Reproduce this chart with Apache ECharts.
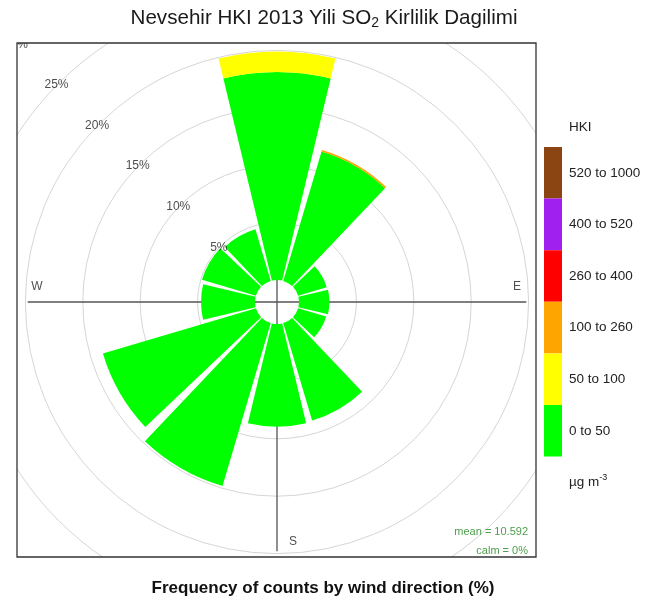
<!DOCTYPE html>
<html><head><meta charset="utf-8">
<script src="https://cdn.jsdelivr.net/npm/echarts@6/dist/echarts.min.js"></script>
<style>html,body{margin:0;padding:0;background:#fff}#c{width:651px;height:601px}</style>
</head><body><div id="c"></div>
<script>
// ---- data ----
const directions = [0, 30, 60, 90, 120, 150, 180, 210, 240, 270, 300, 330];
const binNames = ['0 to 50', '50 to 100', '100 to 260', '260 to 400', '400 to 520', '520 to 1000'];
const binColors = ['#00ff00', '#ffff00', '#ffa500', '#ff0000', '#a020f0', '#8b4513'];
const bin0to50    = [18.1, 11.75, 2.6, 2.65, 2.55, 8.85, 8.95, 14.8, 13.9, 4.7, 4.9, 4.7];
const bin50to100  = [1.8, 0, 0, 0, 0, 0, 0, 0, 0, 0, 0, 0];
const bin100to260 = [0, 0.15, 0, 0, 0, 0, 0, 0, 0, 0, 0, 0];
const bin260to400 = [0, 0, 0, 0, 0, 0, 0, 0, 0, 0, 0, 0];
const bin400to520 = [0, 0, 0, 0, 0, 0, 0, 0, 0, 0, 0, 0];
const bin520to1000 = [0, 0, 0, 0, 0, 0, 0, 0, 0, 0, 0, 0];
const binData = [bin0to50, bin50to100, bin100to260, bin260to400, bin400to520, bin520to1000];
const ringTicks = [5, 10, 15, 20, 25, 30];
const ringLabelAngle = 315;
const compassLabels = ['W', 'E', 'S'];
const compassAngles = [270, 90, 180];
const compassRadius = 19;
const titleText = 'Nevsehir HKI 2013 Yili SO{s|2} Kirlilik Dagilimi';
const captionText = 'Frequency of counts by wind direction (%)';
const legendTitle = 'HKI';
const unitText = 'µg m{p|-3}';
const meanText = 'mean = 10.592';
const calmText = 'calm = 0%';

// ---- layout ----
const CX = 277, CY = 302, INNER = 22, PXPCT = 11.48;
const BOX = {x: 17, y: 43, w: 519, h: 514};
const FONT = 'Liberation Sans, Arial, sans-serif';

const chart = echarts.init(document.getElementById('c'), null, {renderer: 'canvas'});

const hidden = {axisLine: {show: false}, axisTick: {show: false}, axisLabel: {show: false}};

// empty bins are passed as '-' so no zero-height sectors are drawn
const barSeries = binNames.map((n, i) => ({
  name: n, type: 'bar', coordinateSystem: 'polar', polarIndex: 0, stack: 'hki',
  barCategoryGap: '10%', z: 2, silent: true,
  itemStyle: {color: binColors[i]},
  data: binData[i].map(v => (v > 0 ? v : '-'))
}));

const labelData = ringTicks.map(v => ({
  value: [v, ringLabelAngle],
  label: {formatter: v + '%', offset: [-2, 1.5], fontSize: 12}
})).concat(compassLabels.map((t, i) => ({
  value: [compassRadius, compassAngles[i]],
  label: {formatter: t, offset: t === 'S' ? [16, 0] : [0, -15], fontSize: 12}
})));

const option = {
  animation: false,
  backgroundColor: '#fff',
  textStyle: {fontFamily: FONT},
  polar: [
    {center: [CX, CY], radius: [INNER, INNER + PXPCT * 25]},
    {center: [CX, CY], radius: [0, INNER + PXPCT * 19.8]},
    {center: [CX, CY], radius: [INNER, INNER + PXPCT * 30]}
  ],
  angleAxis: [
    Object.assign({polarIndex: 0, type: 'category', data: directions.map(String), startAngle: 105,
      clockwise: true, splitLine: {show: false}}, hidden),
    Object.assign({polarIndex: 1, type: 'value', min: 0, max: 360, interval: 90, startAngle: 90,
      clockwise: true, splitLine: {show: true, lineStyle: {color: '#555', width: 1.3}}}, hidden),
    Object.assign({polarIndex: 2, type: 'value', min: 0, max: 360, startAngle: 90,
      clockwise: true, splitLine: {show: false}}, hidden)
  ],
  radiusAxis: [
    Object.assign({polarIndex: 0, type: 'value', min: 0, max: 25, interval: 5,
      splitLine: {show: true, lineStyle: {color: ['rgba(0,0,0,0)', '#d6d6d6', '#d6d6d6', '#d6d6d6', '#d6d6d6', '#d6d6d6'], width: 1}}}, hidden),
    Object.assign({polarIndex: 1, type: 'value', min: 0, max: 20, splitLine: {show: false}}, hidden),
    Object.assign({polarIndex: 2, type: 'value', min: 0, max: 30, splitLine: {show: false}}, hidden)
  ],
  legend: {
    orient: 'vertical', left: 544, top: 147, padding: 0, itemGap: 0,
    itemWidth: 18, itemHeight: 51.6, icon: 'rect', selectedMode: false, z: 30,
    data: binNames.slice().reverse(),
    textStyle: {fontSize: 13.5, color: '#222', fontFamily: FONT, padding: [0, 0, 0, 2]}
  },
  series: barSeries.concat([{
    type: 'scatter', coordinateSystem: 'polar', polarIndex: 2, symbolSize: 1, silent: true, z: 3,
    itemStyle: {color: 'rgba(0,0,0,0)'},
    label: {show: true, position: 'inside', color: '#222', fontFamily: FONT},
    data: labelData
  }]),
  graphic: [
    {type: 'rect', z: 10, silent: true, shape: {x: 0, y: 0, width: 651, height: BOX.y}, style: {fill: '#fff'}},
    {type: 'rect', z: 10, silent: true, shape: {x: 0, y: 0, width: BOX.x, height: 601}, style: {fill: '#fff'}},
    {type: 'rect', z: 10, silent: true, shape: {x: BOX.x + BOX.w, y: 0, width: 651 - BOX.x - BOX.w, height: 601}, style: {fill: '#fff'}},
    {type: 'rect', z: 10, silent: true, shape: {x: 0, y: BOX.y + BOX.h, width: 651, height: 601 - BOX.y - BOX.h}, style: {fill: '#fff'}},
    {type: 'rect', z: 11, silent: true, shape: {x: BOX.x, y: BOX.y, width: BOX.w, height: BOX.h}, style: {fill: 'none', stroke: '#333', lineWidth: 1.3}},
    {type: 'text', z: 12, silent: true, x: 324, y: 18, style: {text: titleText, fontSize: 20.6, fontFamily: FONT, fill: '#1a1a1a', align: 'center', verticalAlign: 'middle',
      rich: {s: {fontSize: 14, fontFamily: FONT, fill: '#1a1a1a', padding: [10, 0, 0, 0]}}}},
    {type: 'text', z: 12, silent: true, x: 323, y: 588, style: {text: captionText, fontSize: 17, fontWeight: 'bold', fontFamily: FONT, fill: '#111', align: 'center', verticalAlign: 'middle'}},
    {type: 'text', z: 12, silent: true, x: 569, y: 127, style: {text: legendTitle, fontSize: 13.5, fontFamily: FONT, fill: '#222', align: 'left', verticalAlign: 'middle'}},
    {type: 'text', z: 12, silent: true, x: 569, y: 482, style: {text: unitText, fontSize: 13.5, fontFamily: FONT, fill: '#222', align: 'left', verticalAlign: 'middle',
      rich: {p: {fontSize: 9, fontFamily: FONT, fill: '#222', padding: [0, 0, 8, 0]}}}},
    {type: 'text', z: 12, silent: true, x: 528, y: 532, style: {text: meanText, fontSize: 11, fontFamily: FONT, fill: '#4d9e4d', align: 'right', verticalAlign: 'middle'}},
    {type: 'text', z: 12, silent: true, x: 528, y: 551, style: {text: calmText, fontSize: 11, fontFamily: FONT, fill: '#4d9e4d', align: 'right', verticalAlign: 'middle'}}
  ]
};
chart.setOption(option);
</script></body></html>
